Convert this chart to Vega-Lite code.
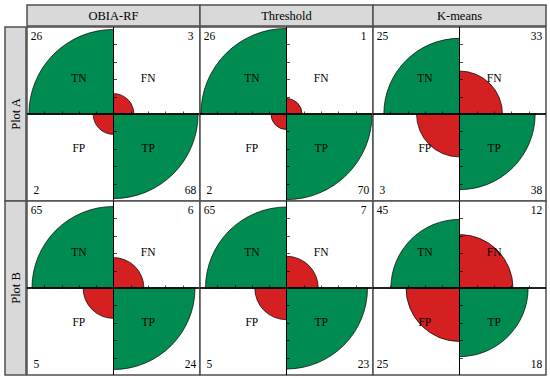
{
  "$schema": "https://vega.github.io/schema/vega-lite/v6.json",
  "padding": {"left": 4, "top": 4, "right": 0, "bottom": 0},
  "spacing": -2,
  "config": {
    "view": {"stroke": null},
    "concat": {"spacing": 0},
    "facet": {"spacing": 0},
    "font": "Liberation Serif"
  },
  "datasets": {
    "fourfold": [
      {"plot": "Plot A", "method": "OBIA-RF", "cell": "FN", "quadrant": 1, "count": 3, "std": 0.055},
      {"plot": "Plot A", "method": "OBIA-RF", "cell": "TP", "quadrant": 2, "count": 68, "std": 0.945},
      {"plot": "Plot A", "method": "OBIA-RF", "cell": "FP", "quadrant": 3, "count": 2, "std": 0.055},
      {"plot": "Plot A", "method": "OBIA-RF", "cell": "TN", "quadrant": 4, "count": 26, "std": 0.945},
      {"plot": "Plot A", "method": "Threshold", "cell": "FN", "quadrant": 1, "count": 1, "std": 0.032},
      {"plot": "Plot A", "method": "Threshold", "cell": "TP", "quadrant": 2, "count": 70, "std": 0.968},
      {"plot": "Plot A", "method": "Threshold", "cell": "FP", "quadrant": 3, "count": 2, "std": 0.032},
      {"plot": "Plot A", "method": "Threshold", "cell": "TN", "quadrant": 4, "count": 26, "std": 0.968},
      {"plot": "Plot A", "method": "K-means", "cell": "FN", "quadrant": 1, "count": 33, "std": 0.244},
      {"plot": "Plot A", "method": "K-means", "cell": "TP", "quadrant": 2, "count": 38, "std": 0.756},
      {"plot": "Plot A", "method": "K-means", "cell": "FP", "quadrant": 3, "count": 3, "std": 0.244},
      {"plot": "Plot A", "method": "K-means", "cell": "TN", "quadrant": 4, "count": 25, "std": 0.756},
      {"plot": "Plot B", "method": "OBIA-RF", "cell": "FN", "quadrant": 1, "count": 6, "std": 0.122},
      {"plot": "Plot B", "method": "OBIA-RF", "cell": "TP", "quadrant": 2, "count": 24, "std": 0.878},
      {"plot": "Plot B", "method": "OBIA-RF", "cell": "FP", "quadrant": 3, "count": 5, "std": 0.122},
      {"plot": "Plot B", "method": "OBIA-RF", "cell": "TN", "quadrant": 4, "count": 65, "std": 0.878},
      {"plot": "Plot B", "method": "Threshold", "cell": "FN", "quadrant": 1, "count": 7, "std": 0.133},
      {"plot": "Plot B", "method": "Threshold", "cell": "TP", "quadrant": 2, "count": 23, "std": 0.867},
      {"plot": "Plot B", "method": "Threshold", "cell": "FP", "quadrant": 3, "count": 5, "std": 0.133},
      {"plot": "Plot B", "method": "Threshold", "cell": "TN", "quadrant": 4, "count": 65, "std": 0.867},
      {"plot": "Plot B", "method": "K-means", "cell": "FN", "quadrant": 1, "count": 12, "std": 0.378},
      {"plot": "Plot B", "method": "K-means", "cell": "TP", "quadrant": 2, "count": 18, "std": 0.622},
      {"plot": "Plot B", "method": "K-means", "cell": "FP", "quadrant": 3, "count": 25, "std": 0.378},
      {"plot": "Plot B", "method": "K-means", "cell": "TN", "quadrant": 4, "count": 45, "std": 0.622}
    ]
  },
  "vconcat": [
    {
      "spacing": 0,
      "hconcat": [
        {
          "width": 21, "height": 21,
          "data": {"values": []},
          "mark": "point",
          "encoding": {}
        },
        {
          "data": {"values": [{"method": "OBIA-RF"}, {"method": "Threshold"}, {"method": "K-means"}]},
          "spacing": 0,
          "bounds": "flush",
          "facet": {
            "column": {"field": "method", "sort": ["OBIA-RF", "Threshold", "K-means"], "header": {"labels": false, "title": null}}
          },
          "spec": {
            "width": 173, "height": 21,
            "view": {"fill": "#d9d9d9", "stroke": "#505050", "strokeWidth": 1.5},
            "mark": {"type": "text", "font": "Liberation Serif", "fontSize": 12.5, "color": "black", "baseline": "middle", "align": "center"},
            "encoding": {"text": {"field": "method"}}
          }
        }
      ]
    },
    {
      "spacing": -2,
      "hconcat": [
        {
          "data": {"values": [{"plot": "Plot A"}, {"plot": "Plot B"}]},
          "spacing": 0,
          "bounds": "flush",
          "facet": {
            "row": {"field": "plot", "header": {"labels": false, "title": null}}
          },
          "spec": {
            "width": 21, "height": 174,
            "view": {"fill": "#d9d9d9", "stroke": "#505050", "strokeWidth": 1.5},
            "mark": {"type": "text", "font": "Liberation Serif", "fontSize": 12.5, "color": "black", "baseline": "middle", "align": "center", "angle": 270},
            "encoding": {"text": {"field": "plot"}}
          }
        },
        {
          "data": {"name": "fourfold"},
          "spacing": 0,
          "bounds": "flush",
          "facet": {
            "row": {"field": "plot", "header": {"labels": false, "title": null}},
            "column": {"field": "method", "sort": ["OBIA-RF", "Threshold", "K-means"], "header": {"labels": false, "title": null}}
          },
          "resolve": {"axis": {"x": "independent", "y": "independent"}},
          "spec": {
            "width": 173, "height": 174,
            "view": {"fill": "white", "stroke": "#505050", "strokeWidth": 1.5},
            "layer": [
              {
                "transform": [
                  {"aggregate": [{"op": "count", "as": "n"}], "groupby": ["plot", "method", "cell", "quadrant", "std"]},
                  {"stack": "n", "groupby": ["plot", "method"], "sort": [{"field": "quadrant", "order": "ascending"}], "as": ["a0", "a1"]}
                ],
                "mark": {"type": "arc", "stroke": "black", "strokeWidth": 0.7},
                "encoding": {
                  "theta": {"field": "a0", "type": "quantitative", "stack": null, "scale": {"domain": [0, 4]}},
                  "theta2": {"field": "a1"},
                  "radius": {"field": "std", "type": "quantitative", "scale": {"type": "sqrt", "domain": [0, 1], "range": [0, 87]}},
                  "color": {"field": "cell", "type": "nominal", "scale": {"domain": ["TN", "FN", "FP", "TP"], "range": ["#008c50", "#d42020", "#d42020", "#008c50"]}, "legend": null}
                }
              },
              {
                "mark": {"type": "rule", "color": "black", "strokeWidth": 0.8},
                "encoding": {
                  "y": {"datum": 0, "type": "quantitative", "scale": {"domain": [-1, 1]},
                    "axis": {"orient": "right", "offset": -86.5, "values": [-0.8, -0.6, -0.4, -0.2, 0.2, 0.4, 0.6, 0.8], "labels": false, "domain": false, "grid": false, "ticks": true, "tickSize": 3, "tickColor": "black", "tickWidth": 0.7, "title": null, "zindex": 1}}
                }
              },
              {
                "mark": {"type": "rule", "color": "black", "strokeWidth": 0.8},
                "encoding": {
                  "x": {"datum": 0, "type": "quantitative", "scale": {"domain": [-1, 1]},
                    "axis": {"orient": "top", "offset": -87, "values": [-0.8, -0.6, -0.4, -0.2, 0.2, 0.4, 0.6, 0.8], "labels": false, "domain": false, "grid": false, "ticks": true, "tickSize": 3, "tickColor": "black", "tickWidth": 0.7, "title": null, "zindex": 1}}
                }
              },
              {
                "mark": {"type": "text", "radius": 49, "font": "Liberation Serif", "fontSize": 11.5, "color": "black", "baseline": "middle", "align": "center"},
                "encoding": {
                  "theta": {"aggregate": "count", "type": "quantitative", "stack": true},
                  "order": {"field": "quadrant", "type": "quantitative"},
                  "detail": {"field": "cell"},
                  "text": {"field": "cell"}
                }
              },
              {
                "mark": {"type": "text", "radius": 109, "font": "Liberation Serif", "fontSize": 11.5, "color": "black", "baseline": "middle", "align": "center"},
                "encoding": {
                  "theta": {"aggregate": "count", "type": "quantitative", "stack": true},
                  "order": {"field": "quadrant", "type": "quantitative"},
                  "detail": {"field": "cell"},
                  "text": {"field": "count"}
                }
              }
            ]
          }
        }
      ]
    }
  ]
}
